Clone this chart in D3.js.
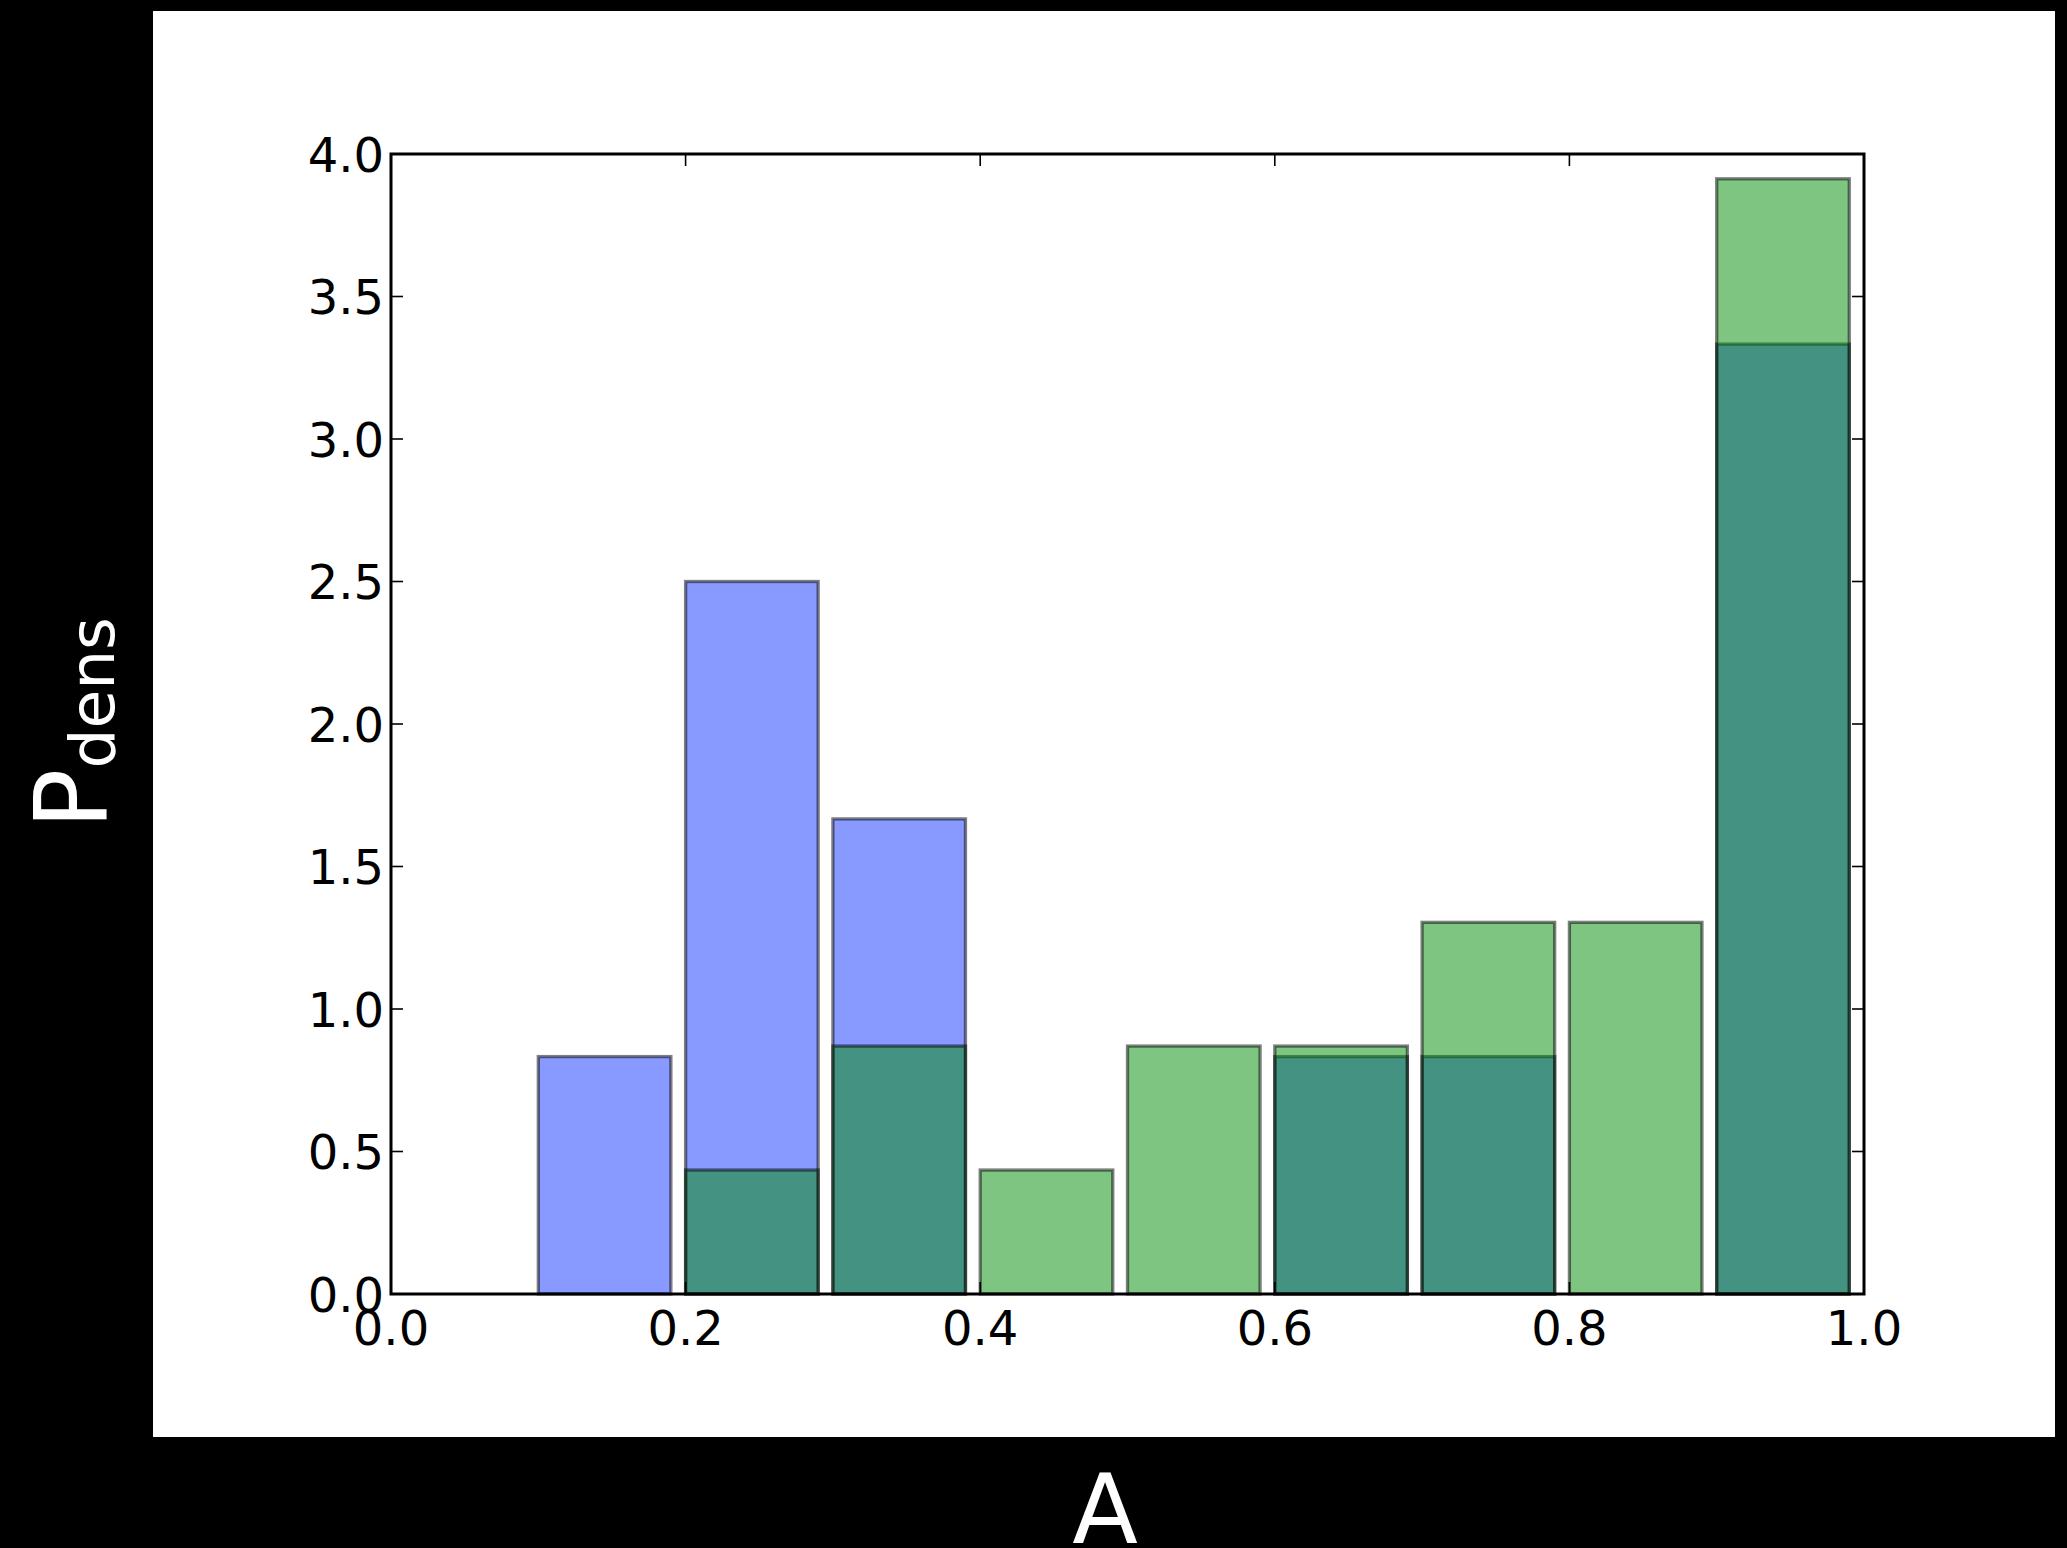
<!DOCTYPE html>
<meta charset='utf-8'>
<style>
body { margin: 0; background: #000; }
svg { display: block; }
text { font-family: 'DejaVu Sans', sans-serif; }
.tick-label { font-size: 48px; fill: #000; }
</style>
<svg width='2067' height='1548'></svg>
<script src='https://cdnjs.cloudflare.com/ajax/libs/d3/7.8.5/d3.min.js'></script>
<script>

// histogram bins (left edges) and the two normalised densities
var binStarts = [0.0, 0.1, 0.2, 0.3, 0.4, 0.5, 0.6, 0.7, 0.8, 0.9],
    blueDensity = [0, 0.833, 2.5, 1.667, 0, 0, 0.833, 0.833, 0, 3.333],
    greenDensity = [0, 0, 0.435, 0.870, 0.435, 0.870, 0.870, 1.304, 1.304, 3.913],
    xTicks = [0.0, 0.2, 0.4, 0.6, 0.8, 1.0],
    yTicks = [0.0, 0.5, 1.0, 1.5, 2.0, 2.5, 3.0, 3.5, 4.0],
    barWidth = 0.09;

var svg = d3.select('svg');

// white figure area on the black page
svg.append('rect')
    .attr('x', 153).attr('y', 11)
    .attr('width', 1902).attr('height', 1426)
    .attr('fill', '#fff');

// axes box in px (window.top is taken, so prefix these)
var axLeft = 391, axRight = 1864, axTop = 154, axBottom = 1294;

var x = d3.scaleLinear().domain([0, 1]).range([axLeft, axRight]),
    y = d3.scaleLinear().domain([0, 4]).range([axBottom, axTop]);

function drawBars(values, color) {
    svg.append('g')
        .selectAll('rect')
        .data(binStarts.map(function (b, i) { return { x0: b, v: values[i] }; })
                       .filter(function (d) { return d.v > 0; }))
        .join('rect')
        .attr('x', function (d) { return x(d.x0); })
        .attr('y', function (d) { return y(d.v); })
        .attr('width', function (d) { return x(d.x0 + barWidth) - x(d.x0); })
        .attr('height', function (d) { return y(0) - y(d.v); })
        .attr('fill', color)
        .attr('fill-opacity', 0.5)
        .attr('stroke', '#000')
        .attr('stroke-opacity', 0.5)
        .attr('stroke-width', 3.3);
}

drawBars(blueDensity, 'rgb(17,51,255)');
drawBars(greenDensity, 'rgb(0,140,5)');

// inward ticks on all four sides
var tickLen = 12, ticks = svg.append('g').attr('stroke', '#000').attr('stroke-width', 1.6);
xTicks.forEach(function (t) {
    ticks.append('line').attr('x1', x(t)).attr('x2', x(t)).attr('y1', axBottom).attr('y2', axBottom - tickLen);
    ticks.append('line').attr('x1', x(t)).attr('x2', x(t)).attr('y1', axTop).attr('y2', axTop + tickLen);
});
yTicks.forEach(function (t) {
    ticks.append('line').attr('x1', axLeft).attr('x2', axLeft + tickLen).attr('y1', y(t)).attr('y2', y(t));
    ticks.append('line').attr('x1', axRight).attr('x2', axRight - tickLen).attr('y1', y(t)).attr('y2', y(t));
});

// spines
svg.append('rect')
    .attr('x', axLeft).attr('y', axTop)
    .attr('width', axRight - axLeft).attr('height', axBottom - axTop)
    .attr('fill', 'none').attr('stroke', '#000').attr('stroke-width', 3);

var fmt = d3.format('.1f');

svg.append('g').selectAll('text')
    .data(xTicks).join('text')
    .attr('class', 'tick-label')
    .attr('x', function (d) { return x(d); })
    .attr('y', 1345)
    .attr('text-anchor', 'middle')
    .text(fmt);

svg.append('g').selectAll('text')
    .data(yTicks).join('text')
    .attr('class', 'tick-label')
    .attr('x', 384)
    .attr('y', function (d) { return y(d) + 17.5; })
    .attr('text-anchor', 'end')
    .text(fmt);

// axis labels, white on the black margin
svg.append('text')
    .attr('x', 1105).attr('y', 1543)
    .attr('text-anchor', 'middle')
    .attr('fill', '#fff')
    .style('font-size', '96px')
    .text('A');

var ylab = svg.append('text')
    .attr('transform', 'translate(106,723) rotate(-90)')
    .attr('text-anchor', 'middle')
    .attr('fill', '#fff')
    .style('font-size', '100px');
ylab.append('tspan').text('P');
ylab.append('tspan').attr('dy', 8).style('font-size', '63px').text('dens');

</script>
